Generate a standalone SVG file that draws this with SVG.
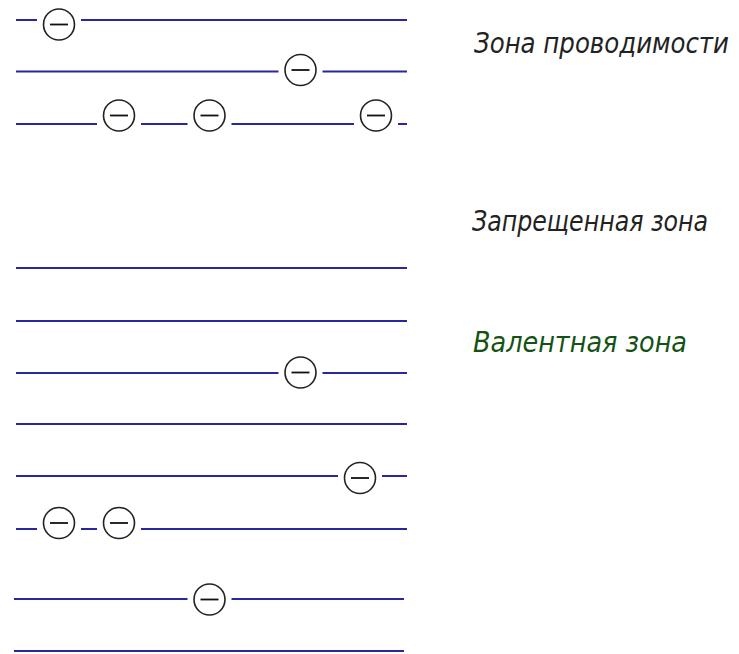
<svg xmlns="http://www.w3.org/2000/svg" xmlns:xlink="http://www.w3.org/1999/xlink" width="739" height="654" viewBox="0 0 739 654">
<style>
.lvl{stroke:#28289e;stroke-width:2.2;fill:none}
.lbl{font-family:"DejaVu Sans","Liberation Sans",sans-serif;font-style:italic;font-weight:200;font-stretch:condensed;font-size:28px}
</style>
<defs>
<g id="el">
<rect x="-22" y="-18" width="44" height="36" fill="#fff"/>
<circle r="15.5" fill="#fff" stroke="#222" stroke-width="1.6"/>
<line x1="-9" y1="0" x2="9" y2="0" stroke="#111" stroke-width="1.8"/>
</g>
</defs>
<rect width="739" height="654" fill="#fff"/>
<g id="levels">
<line class="lvl" x1="16" y1="20" x2="407" y2="20"/>
<line class="lvl" x1="16" y1="71.5" x2="407" y2="71.5"/>
<line class="lvl" x1="16" y1="124" x2="407" y2="124"/>
<line class="lvl" x1="16" y1="268" x2="407" y2="268"/>
<line class="lvl" x1="16" y1="321" x2="407" y2="321"/>
<line class="lvl" x1="16" y1="373" x2="407" y2="373"/>
<line class="lvl" x1="16" y1="424" x2="407" y2="424"/>
<line class="lvl" x1="16" y1="476" x2="407" y2="476"/>
<line class="lvl" x1="16" y1="529" x2="407" y2="529"/>
<line class="lvl" x1="14" y1="599" x2="404" y2="599"/>
<line class="lvl" x1="14" y1="651" x2="404" y2="651"/>
</g>
<g id="e1"><use xlink:href="#el" href="#el" x="59" y="24.5"/></g>
<g id="e2"><use xlink:href="#el" href="#el" x="300.5" y="70"/></g>
<g id="e3"><use xlink:href="#el" href="#el" x="119" y="115.5"/></g>
<g id="e4"><use xlink:href="#el" href="#el" x="209.5" y="115.5"/></g>
<g id="e5"><use xlink:href="#el" href="#el" x="376" y="115.5"/></g>
<g id="e6"><use xlink:href="#el" href="#el" x="300.5" y="372.5"/></g>
<g id="e7"><use xlink:href="#el" href="#el" x="360" y="478"/></g>
<g id="e8"><use xlink:href="#el" href="#el" x="59" y="523"/></g>
<g id="e9"><use xlink:href="#el" href="#el" x="119" y="523"/></g>
<g id="e10"><use xlink:href="#el" href="#el" x="209.5" y="599.5"/></g>
<g id="label-conduction"><text class="lbl" x="474" y="53" fill="#222" textLength="255" lengthAdjust="spacingAndGlyphs">Зона проводимости</text></g>
<g id="label-forbidden"><text class="lbl" x="472" y="231" fill="#222" textLength="236" lengthAdjust="spacingAndGlyphs">Запрещенная зона</text></g>
<g id="label-valence"><text class="lbl" x="473" y="352" fill="#145214" textLength="214" lengthAdjust="spacingAndGlyphs">Валентная зона</text></g>
</svg>
